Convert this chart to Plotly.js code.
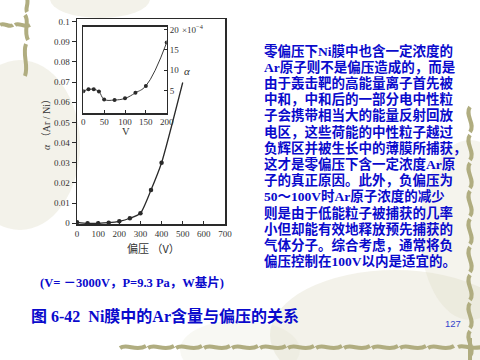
<!DOCTYPE html>
<html>
<head>
<meta charset="utf-8">
<script src="https://cdn.plot.ly/plotly-3.0.1.min.js"></script>
<style>html,body{margin:0;padding:0;background:#fff;}#chart{width:480px;height:360px;}</style>
</head>
<body>
<div id="chart"></div>
<script>
// ---- data ----
const biasV = [0, 50, 100, 150, 200, 250, 300, 350, 400, 500];
const arRatio = [0.0005, 0, 0, 0.0003, 0.001, 0.0025, 0.005, 0.0165, 0.030, 0.0698];
const markedCount = 9;
const insetV = [0, 12.5, 25, 37.5, 50, 75, 100, 125, 150, 200];
const insetAlpha = [4.9, 5.35, 5.35, 4.8, 2.9, 2.75, 3.15, 4.5, 6.2, 16.8];
const mainXTicks = [0, 100, 200, 300, 400, 500, 600, 700];
const mainYTicks = [0, 0.01, 0.02, 0.03, 0.04, 0.05, 0.06, 0.07, 0.08, 0.09, 0.1];
const mainYTickText = ['0', '0.01', '0.02', '0.03', '0.04', '0.05', '0.06', '0.07', '0.08', '0.09', '0.1'];
const insetXTicks = [0, 50, 100, 150, 200];
const insetYTicks = [5, 10, 15, 20];
const paragraph = [
  '零偏压下Ni膜中也含一定浓度的',
  'Ar原子则不是偏压造成的，而是',
  '由于轰击靶的高能量离子首先被',
  '中和，中和后的一部分电中性粒',
  '子会携带相当大的能量反射回放',
  '电区，这些荷能的中性粒子越过',
  '负辉区并被生长中的薄膜所捕获，',
  '这才是零偏压下含一定浓度Ar原',
  '子的真正原因。此外，负偏压为',
  '50～100V时Ar原子浓度的减少',
  '则是由于低能粒子被捕获的几率',
  '小但却能有效地释放预先捕获的',
  '气体分子。综合考虑，通常将负',
  '偏压控制在100V以内是适宜的。'
];
const conditionText = '(V= －3000V，P=9.3 Pa，W基片)';
const captionText = '图 6-42  Ni膜中的Ar含量与偏压的关系';
const pageNumber = '127';

// ---- helpers (pixel -> paper) ----
const W = 480, H = 360;
const px = x => x / W;
const py = y => 1 - y / H;
function path(cmds) {
  return cmds.map(c => {
    const [op, ...pts] = c;
    const out = [];
    for (let i = 0; i < pts.length; i += 2) out.push(px(pts[i]).toFixed(5) + ',' + py(pts[i + 1]).toFixed(5));
    return op + out.join(' ');
  }).join(' ');
}

const ink = '#2a2a2a';
const blue = '#0a0acc';
const vine = '#b0ad80';
const serif = 'Liberation Serif, Noto Sans CJK SC';

const traces = [
  { x: biasV, y: arRatio, xaxis: 'x', yaxis: 'y', mode: 'lines',
    line: { color: ink, width: 1.3, shape: 'spline', smoothing: 0.6 }, hoverinfo: 'skip' },
  { x: biasV.slice(0, markedCount), y: arRatio.slice(0, markedCount), xaxis: 'x', yaxis: 'y', mode: 'markers',
    marker: { color: ink, size: 4.5 } },
  { x: insetV, y: insetAlpha, xaxis: 'x2', yaxis: 'y2', mode: 'lines+markers',
    line: { color: '#3a3a3a', width: 1, shape: 'spline', smoothing: 1.2 },
    marker: { color: ink, size: 4 } }
];

// decorations
const shapes = [];
const blot = (x0, y0, x1, y1, op) => shapes.push({ type: 'circle', xref: 'paper', yref: 'paper', layer: 'below',
  x0: px(x0), x1: px(x1), y0: py(y1), y1: py(y0), fillcolor: 'rgba(222,219,196,' + op + ')', line: { width: 0 } });
blot(-40, 60, 80, 230, 0.35);
blot(50, -20, 150, 18, 0.35);
blot(270, 270, 520, 400, 0.35);
blot(420, 140, 520, 320, 0.3);
blot(180, 320, 300, 380, 0.2);

const vineLine = { color: vine, width: 4 };
const addPath = cmds => shapes.push({ type: 'path', xref: 'paper', yref: 'paper', layer: 'below', path: path(cmds), line: vineLine });
// top-left vine
addPath([['M', 27, -2], ['C', 29, 4, 25, 8, 27, 12]]);
addPath([['M', 25, 15], ['C', 30, 22, 23, 30, 28, 40]]);
addPath([['M', 26, 44], ['C', 22, 55, 29, 65, 25, 76]]);
addPath([['M', 0, 25], ['C', 4, 22, 9, 28, 13, 25]]);
addPath([['M', 15, 25], ['C', 19, 22, 24, 28, 30, 25]]);
// right vine
for (let y0 = 107; y0 < 335; y0 += 28) {
  addPath([['M', 470, y0], ['C', 464, y0 + 8, 476, y0 + 17, 470, y0 + 25]]);
}
addPath([['M', 470, 338], ['L', 470, 362]]);
addPath([['M', 458, 347], ['C', 464, 344, 468, 350, 482, 347]]);
// bottom wave
for (let x0 = 120; x0 < 455; x0 += 28) {
  addPath([['M', x0, 348], ['C', x0 + 7, 343, x0 + 16, 352, x0 + 26, 346]]);
}

const annotations = [];
paragraph.forEach((t, i) => annotations.push({ xref: 'paper', yref: 'paper', x: px(261.5), y: py(50.7 + 16.2 * i),
  xanchor: 'left', yanchor: 'middle', showarrow: false, text: t,
  font: { family: serif, size: 13.5, color: blue, weight: 'bold' } }));
annotations.push({ xref: 'paper', yref: 'paper', x: px(38), y: py(282), xanchor: 'left', yanchor: 'middle', showarrow: false,
  text: conditionText, font: { family: serif, size: 12.5, color: blue, weight: 'bold' } });
annotations.push({ xref: 'paper', yref: 'paper', x: px(29), y: py(316), xanchor: 'left', yanchor: 'middle', showarrow: false,
  text: captionText, font: { family: serif, size: 16, color: blue, weight: 'bold' } });
annotations.push({ xref: 'paper', yref: 'paper', x: px(453), y: py(323), xanchor: 'center', yanchor: 'middle', showarrow: false,
  text: pageNumber, font: { family: 'Liberation Sans', size: 9.5, color: '#3344cc' } });
// chart labels
annotations.push({ xref: 'paper', yref: 'paper', x: px(46), y: py(122), xanchor: 'center', yanchor: 'middle', showarrow: false,
  textangle: -90, text: '<i>α</i> （Ar / Ni）', font: { family: serif, size: 10, color: '#333' } });
annotations.push({ xref: 'paper', yref: 'paper', x: px(153), y: py(248), xanchor: 'center', yanchor: 'middle', showarrow: false,
  text: '偏压 （V）', font: { family: 'Noto Sans CJK SC', size: 11, color: '#333' } });
annotations.push({ xref: 'paper', yref: 'paper', x: px(126), y: py(131), xanchor: 'center', yanchor: 'middle', showarrow: false,
  text: 'V', font: { family: 'Liberation Serif', size: 10.5, color: '#333' } });
annotations.push({ xref: 'paper', yref: 'paper', x: px(180), y: py(29), xanchor: 'left', yanchor: 'middle', showarrow: false,
  text: '×10<sup>−4</sup>', font: { family: 'Liberation Serif', size: 9, color: '#333' } });
annotations.push({ xref: 'paper', yref: 'paper', x: px(187), y: py(71), xanchor: 'center', yanchor: 'middle', showarrow: false,
  text: '<i>α</i>', font: { family: 'Liberation Serif', size: 11, color: '#333' } });

const tickFont = { family: 'Liberation Serif', size: 9, color: '#333' };
const layout = {
  width: W, height: H, margin: { l: 0, r: 0, t: 0, b: 0 },
  paper_bgcolor: '#ffffff', plot_bgcolor: 'rgba(0,0,0,0)', showlegend: false,
  xaxis: { domain: [px(77), px(225)], range: [0, 700], anchor: 'y', tickvals: mainXTicks,
    ticks: 'inside', ticklen: 3, tickcolor: ink, showline: true, mirror: true, linecolor: ink, linewidth: 1.5,
    showgrid: false, zeroline: false, tickfont: tickFont, fixedrange: true },
  yaxis: { domain: [py(224.3), py(19)], range: [-0.0005, 0.1013], anchor: 'x', tickvals: mainYTicks, ticktext: mainYTickText,
    ticks: 'outside', ticklen: 4, tickcolor: ink, showline: true, mirror: true, linecolor: ink, linewidth: 1.5,
    showgrid: false, zeroline: false, tickfont: tickFont, fixedrange: true },
  xaxis2: { domain: [px(83.3), px(166.7)], range: [0, 200], anchor: 'y2', tickvals: insetXTicks,
    ticks: 'inside', ticklen: 3, tickcolor: ink, showline: true, mirror: true, linecolor: ink, linewidth: 1.3,
    showgrid: false, zeroline: false, tickfont: tickFont, fixedrange: true },
  yaxis2: { domain: [py(113.3), py(26.7)], range: [-0.5, 20.66], anchor: 'x2', side: 'right', tickvals: insetYTicks,
    ticks: 'inside', ticklen: 3, tickcolor: ink, showline: true, mirror: true, linecolor: ink, linewidth: 1.3,
    showgrid: false, zeroline: false, tickfont: tickFont, fixedrange: true },
  shapes: shapes,
  annotations: annotations
};

Plotly.newPlot('chart', traces, layout, { displayModeBar: false, staticPlot: true });
</script>
</body>
</html>
